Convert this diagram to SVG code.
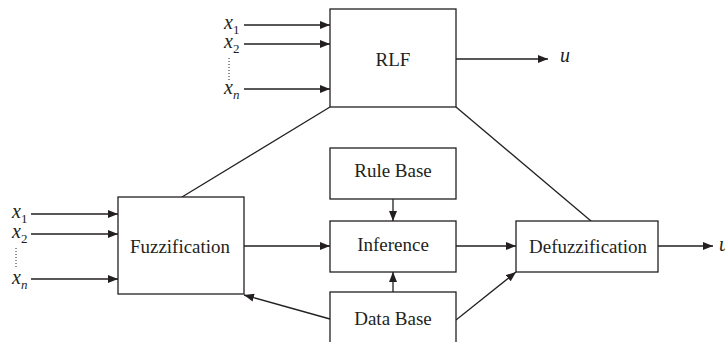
<svg xmlns="http://www.w3.org/2000/svg" width="725" height="342" viewBox="0 0 725 342" font-family="Liberation Serif">
<defs>
<marker id="ah" viewBox="0 0 10 8" refX="10" refY="4" markerWidth="10" markerHeight="8" markerUnits="userSpaceOnUse" orient="auto">
<path d="M0,0 L10,4 L0,8 Z" fill="#231f20"/>
</marker>
<style>
.box{fill:#fff;stroke:#231f20;stroke-width:1.3}
.lbl{font-size:19px;fill:#231f20;text-anchor:middle}
.var{font-size:20px;fill:#231f20}
.sub{font-size:13px}
.ln{stroke:#231f20;stroke-width:1.3;fill:none}
.arr{stroke:#231f20;stroke-width:1.3;fill:none;marker-end:url(#ah)}
.dot{stroke:#231f20;stroke-width:1;stroke-dasharray:1 2;fill:none}
</style>
</defs>
<rect width="725" height="342" fill="#fff"/>
<g id="connectors">
<line class="arr" x1="244" y1="25" x2="330" y2="25"/>
<line class="arr" x1="244" y1="44" x2="330" y2="44"/>
<line class="arr" x1="244" y1="89" x2="330" y2="89"/>
<line class="arr" x1="456" y1="59" x2="548" y2="59"/>
<line class="arr" x1="31" y1="214" x2="118" y2="214"/>
<line class="arr" x1="31" y1="234" x2="118" y2="234"/>
<line class="arr" x1="31" y1="279" x2="118" y2="279"/>
<line class="ln" x1="182" y1="197" x2="330" y2="107"/>
<line class="ln" x1="456" y1="107" x2="591" y2="221"/>
<line class="arr" x1="244" y1="246" x2="330" y2="246"/>
<line class="arr" x1="393" y1="199" x2="393" y2="221"/>
<line class="arr" x1="393" y1="292" x2="393" y2="272"/>
<line class="arr" x1="456" y1="246" x2="516" y2="246"/>
<line class="arr" x1="658" y1="246" x2="713" y2="246"/>
<line class="arr" x1="330" y1="319" x2="244" y2="295"/>
<line class="arr" x1="456" y1="320" x2="516" y2="272"/>
<line class="dot" x1="229" y1="58" x2="229" y2="81"/>
<line class="dot" x1="16" y1="248" x2="16" y2="269"/>
</g>
<g id="rlf">
<rect class="box" x="330" y="9" width="126" height="98"/>
<text class="lbl" x="393" y="66" font-family="Liberation Serif">RLF</text>
</g>
<g id="fuzzification">
<rect class="box" x="118" y="197" width="126" height="97"/>
<text class="lbl" x="180" y="253" font-family="Liberation Serif" textLength="100" lengthAdjust="spacingAndGlyphs">Fuzzification</text>
</g>
<g id="rule-base">
<rect class="box" x="330" y="148" width="126" height="51"/>
<text class="lbl" x="393" y="177" font-family="Liberation Serif">Rule Base</text>
</g>
<g id="inference">
<rect class="box" x="330" y="221" width="126" height="51"/>
<text class="lbl" x="393" y="251" font-family="Liberation Serif">Inference</text>
</g>
<g id="data-base">
<rect class="box" x="330" y="292" width="126" height="60"/>
<text class="lbl" x="393" y="325" font-family="Liberation Serif">Data Base</text>
</g>
<g id="defuzzification">
<rect class="box" x="516" y="221" width="142" height="51"/>
<text class="lbl" x="588" y="253" font-family="Liberation Serif" textLength="118" lengthAdjust="spacingAndGlyphs">Defuzzification</text>
</g>
<g id="labels">
<text class="var" x="224" y="29" font-family="Liberation Serif" font-style="italic">x<tspan class="sub" dy="5" font-style="normal">1</tspan></text>
<text class="var" x="224" y="48" font-family="Liberation Serif" font-style="italic">x<tspan class="sub" dy="5" font-style="normal">2</tspan></text>
<text class="var" x="224" y="94" font-family="Liberation Serif" font-style="italic">x<tspan class="sub" dy="5">n</tspan></text>
<text class="var" x="12" y="218" font-family="Liberation Serif" font-style="italic">x<tspan class="sub" dy="5" font-style="normal">1</tspan></text>
<text class="var" x="12" y="238" font-family="Liberation Serif" font-style="italic">x<tspan class="sub" dy="5" font-style="normal">2</tspan></text>
<text class="var" x="12" y="284" font-family="Liberation Serif" font-style="italic">x<tspan class="sub" dy="5">n</tspan></text>
<text class="var" x="560" y="62" font-family="Liberation Serif" font-style="italic">u</text>
<text class="var" x="719" y="251" font-family="Liberation Serif" font-style="italic">u</text>
</g>
</svg>
